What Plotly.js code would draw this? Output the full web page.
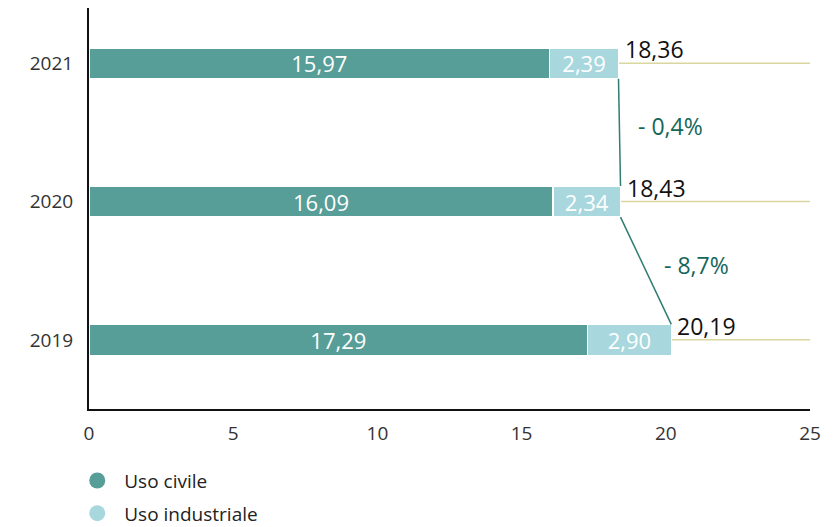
<!DOCTYPE html>
<html><head><meta charset="utf-8">
<script src="https://cdn.plot.ly/plotly-3.0.1.min.js"></script>
<style>html,body{margin:0;padding:0;background:#fff}#chart{width:833px;height:527px}</style>
</head><body><div id="chart"></div>
<script>
// Data (bottom to top)
const years = ['2019', '2020', '2021'];
const usoCivile = [17.29, 16.09, 15.97];
const usoIndustriale = [2.90, 2.34, 2.39];
const totals = [20.19, 18.43, 18.36];
const changeLabels = ['- 8,7%', '- 0,4%']; // 2019→2020, 2020→2021
const seriesNames = ['Uso civile', 'Uso industriale'];
const xTicks = [0, 5, 10, 15, 20, 25];

const colCivile = '#579d98';
const colIndustriale = '#a8d8de';
const FONT = '"Open Sans", Lato, sans-serif';
const barW = 0.224;
const hw = barW / 2;

const fmt = v => v.toFixed(2).replace('.', ',');

const traces = [
  {
    type: 'bar', orientation: 'h', y: years, x: usoCivile, width: barW,
    marker: {color: colCivile, line: {color: '#ffffff', width: 1.5}},
    texttemplate: '%{x:.2f}', textposition: 'inside', insidetextanchor: 'middle',
    constraintext: 'none', textfont: {color: '#ffffff', size: 22, family: FONT},
    showlegend: false, hoverinfo: 'x+y'
  },
  {
    type: 'bar', orientation: 'h', y: years, x: usoIndustriale, width: barW,
    marker: {color: colIndustriale, line: {color: '#ffffff', width: 1.5}},
    texttemplate: '%{x:.2f}', textposition: 'inside', insidetextanchor: 'middle',
    constraintext: 'none', textfont: {color: '#ffffff', size: 22, family: FONT},
    showlegend: false, hoverinfo: 'x+y'
  },
  {
    type: 'scatter', mode: 'markers', x: [null], y: [null], name: seriesNames[0],
    legendgroup: 'a', marker: {symbol: 'circle', size: 21, color: colCivile}
  },
  {
    type: 'scatter', mode: 'markers', x: [null], y: [null], name: seriesNames[1],
    legendgroup: 'b', marker: {symbol: 'circle', size: 21, color: colIndustriale}
  }
];

const shapes = [];
const annotations = [];
years.forEach((yr, i) => {
  shapes.push({type: 'line', xref: 'x', yref: 'y', x0: totals[i], x1: 25.05, y0: i, y1: i,
    line: {color: '#d9d79f', width: 1.5}, layer: 'below'});
  annotations.push({x: totals[i], y: i, xref: 'x', yref: 'y', text: fmt(totals[i]),
    showarrow: false, xanchor: 'left', yanchor: 'middle', xshift: 4, yshift: 14,
    font: {size: 23, color: '#111111', family: FONT}});
});
for (let i = 0; i < years.length - 1; i++) {
  shapes.push({type: 'line', xref: 'x', yref: 'y',
    x0: totals[i + 1], y0: i + 1 - hw, x1: totals[i], y1: i + hw,
    line: {color: '#2f7d73', width: 1.5}});
  annotations.push({x: (totals[i] + totals[i + 1]) / 2, y: i + 0.5, xref: 'x', yref: 'y',
    text: changeLabels[i], showarrow: false, xanchor: 'left', yanchor: 'middle',
    xshift: 16, yshift: 6, font: {size: 23, color: '#15665a', family: FONT, weight: 500}});
}

const layout = {
  width: 833, height: 527,
  margin: {l: 89, r: 23, t: 8, b: 118},
  paper_bgcolor: '#ffffff', plot_bgcolor: '#ffffff',
  barmode: 'stack', bargap: 0,
  separators: ',.',
  font: {family: FONT, color: '#333333', size: 18},
  xaxis: {
    range: [0, 25], tickvals: xTicks, showgrid: false, zeroline: false,
    showline: true, linecolor: '#111111', linewidth: 2, ticks: '', ticklen: 0,
    ticklabelstandoff: 6, tickfont: {size: 19, color: '#333333'}, fixedrange: true
  },
  yaxis: {
    type: 'category', categoryorder: 'array', categoryarray: years,
    range: [-0.5, 2.4], showgrid: false, zeroline: false,
    showline: true, linecolor: '#111111', linewidth: 2, ticks: '',
    ticklabelstandoff: 10, tickfont: {size: 19, color: '#333333'},
    layer: 'below traces', fixedrange: true
  },
  shapes: shapes,
  annotations: annotations,
  showlegend: true,
  legend: {
    orientation: 'v', xref: 'paper', x: -0.026, xanchor: 'left',
    yref: 'container', y: 0.124, yanchor: 'top', itemwidth: 44,
    font: {size: 19, color: '#222222', family: FONT}, tracegroupgap: 5,
    bgcolor: 'rgba(0,0,0,0)', itemclick: false, itemdoubleclick: false
  }
};

Plotly.newPlot('chart', traces, layout, {displayModeBar: false, staticPlot: true});
</script>
</body></html>
